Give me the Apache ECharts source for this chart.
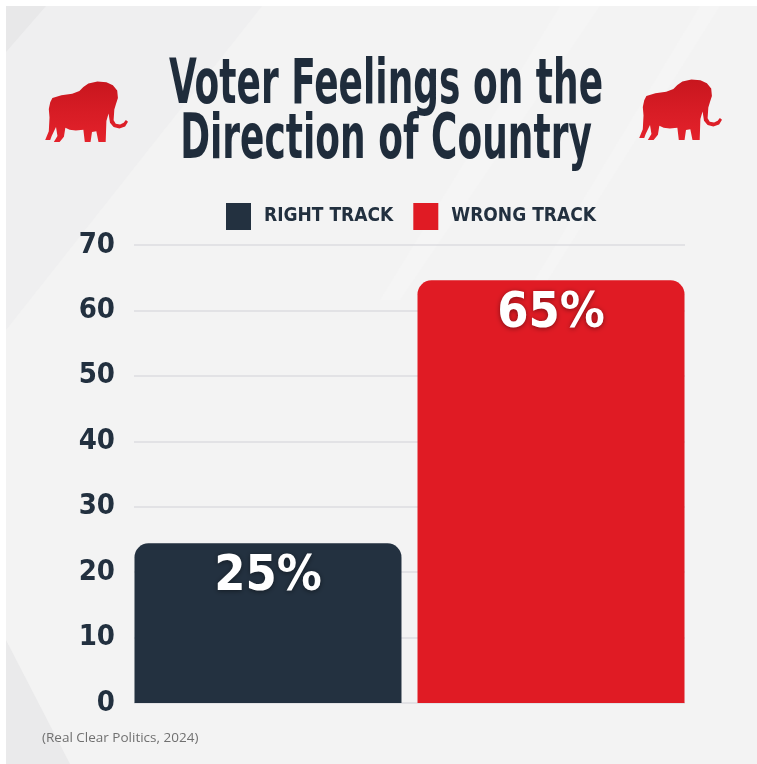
<!DOCTYPE html>
<html>
<head>
<meta charset="utf-8">
<script src="https://cdn.jsdelivr.net/npm/echarts@6/dist/echarts.min.js"></script>
<style>html,body{margin:0;padding:0;background:#fff;}#c{width:757px;height:764px;}</style>
</head>
<body>
<div id="c"></div>
<script>
// ---- data ----
const titleLines = ['Voter Feelings on the', 'Direction of Country'];
const seriesNames = ['RIGHT TRACK', 'WRONG TRACK'];
const seriesValues = [24.4, 64.6];
const valueLabels = ['25%', '65%'];
const seriesColors = ['#233140', '#e01b24'];
const yTicks = [0, 10, 20, 30, 40, 50, 60, 70];
const sourceText = '(Real Clear Politics, 2024)';

const NARROW = '"DejaVu Sans Condensed", "DejaVu Sans", sans-serif';
const elephantPts = [[90,82],[115,74],[145,70],[165,62],[176,50],[190,40],[215,34],[240,36],[258,45],[270,60],[272,82],[266,102],[262,116],[260,148],[266,158],[278,160],[288,155],[294,147],[300,152],[292,166],[276,172],[260,168],[250,155],[246,128],[240,150],[238,212],[218,212],[212,180],[200,182],[196,212],[180,212],[176,176],[155,178],[138,176],[126,170],[122,196],[110,212],[94,212],[104,194],[100,168],[88,194],[84,206],[70,206],[80,180],[82,140],[80,115],[84,95]];

const chart = echarts.init(document.getElementById('c'), null, {renderer: 'canvas'});

const series = seriesNames.map((name, i) => ({
  name: name,
  type: 'bar',
  data: [seriesValues[i]],
  barWidth: 267,
  barGap: '6%',
  itemStyle: { color: seriesColors[i], borderRadius: [14, 14, 0, 0] },
  label: {
    show: true,
    position: 'insideTop',
    distance: 9,
    formatter: () => valueLabels[i],
    color: '#ffffff',
    fontFamily: NARROW,
    fontWeight: 'bold',
    fontSize: 50,
    textShadowColor: 'rgba(0,0,0,0.45)',
    textShadowBlur: 5,
    textShadowOffsetY: 1
  }
}));

function elephant(x, y) {
  return {
    type: 'polygon', x: x, y: y, scaleX: 0.36, scaleY: 0.34, z: 1,
    shape: { points: elephantPts },
    style: {
      fill: { type: 'linear', x: 0, y: 0, x2: 0, y2: 1, colorStops: [
        {offset: 0, color: '#c8161e'}, {offset: 0.5, color: '#d71c25'}, {offset: 1, color: '#e4222b'}
      ] }
    }
  };
}

const option = {
  animation: false,
  backgroundColor: '#ffffff',
  grid: { left: 134, right: 72, top: 245, bottom: 61, containLabel: false },
  legend: {
    data: seriesNames,
    left: 226, top: 203, padding: 0,
    icon: 'rect', itemWidth: 25, itemHeight: 27, itemGap: 20,
    textStyle: { fontFamily: NARROW, fontWeight: 'bold', fontSize: 19, color: '#22303f', padding: [2, 0, 0, 8] }
  },
  xAxis: {
    type: 'category', data: [''],
    axisLine: { show: false }, axisTick: { show: false }, axisLabel: { show: false }
  },
  yAxis: {
    type: 'value', min: yTicks[0], max: yTicks[yTicks.length - 1], interval: 10,
    axisLine: { show: false }, axisTick: { show: false },
    axisLabel: { margin: 19, fontFamily: NARROW, fontWeight: 'bold', fontSize: 29, color: '#22303f' },
    splitLine: { lineStyle: { color: '#dcdde0', width: 1.5 } }
  },
  series: series,
  graphic: [
    { type: 'rect', z: -20, shape: { x: 6, y: 6, width: 751, height: 758 }, style: { fill: '#f3f3f3' } },
    { type: 'polygon', z: -19, shape: { points: [[6, 6], [262, 6], [6, 330]] }, style: { fill: '#efeff0' } },
    { type: 'polygon', z: -18, shape: { points: [[6, 6], [46, 6], [6, 52]] }, style: { fill: '#e8e8e9' } },
    { type: 'polygon', z: -18, shape: { points: [[6, 640], [70, 764], [6, 764]] }, style: { fill: '#eaeaeb' } },
    { type: 'polygon', z: -19, shape: { points: [[560, 6], [600, 6], [400, 300], [380, 300]] }, style: { fill: '#f5f5f5' } },
    { type: 'polygon', z: -19, shape: { points: [[700, 6], [720, 6], [460, 420], [450, 420]] }, style: { fill: '#f5f5f5' } },
    elephant(20, 70),
    elephant(614, 68),
    {
      type: 'text', x: 386, y: 87, scaleX: 0.645, z: 5,
      style: { text: titleLines[0], fill: '#1f2c3b', font: 'bold 62px ' + NARROW, textAlign: 'center', textVerticalAlign: 'middle' }
    },
    {
      type: 'text', x: 386, y: 142, scaleX: 0.645, z: 5,
      style: { text: titleLines[1], fill: '#1f2c3b', font: 'bold 62px ' + NARROW, textAlign: 'center', textVerticalAlign: 'middle' }
    },
    {
      type: 'text', x: 42, y: 738, z: 5,
      style: { text: sourceText, fill: '#707070', font: '13.5px "Open Sans", sans-serif', textAlign: 'left', textVerticalAlign: 'middle' }
    }
  ]
};
chart.setOption(option);
</script>
</body>
</html>
